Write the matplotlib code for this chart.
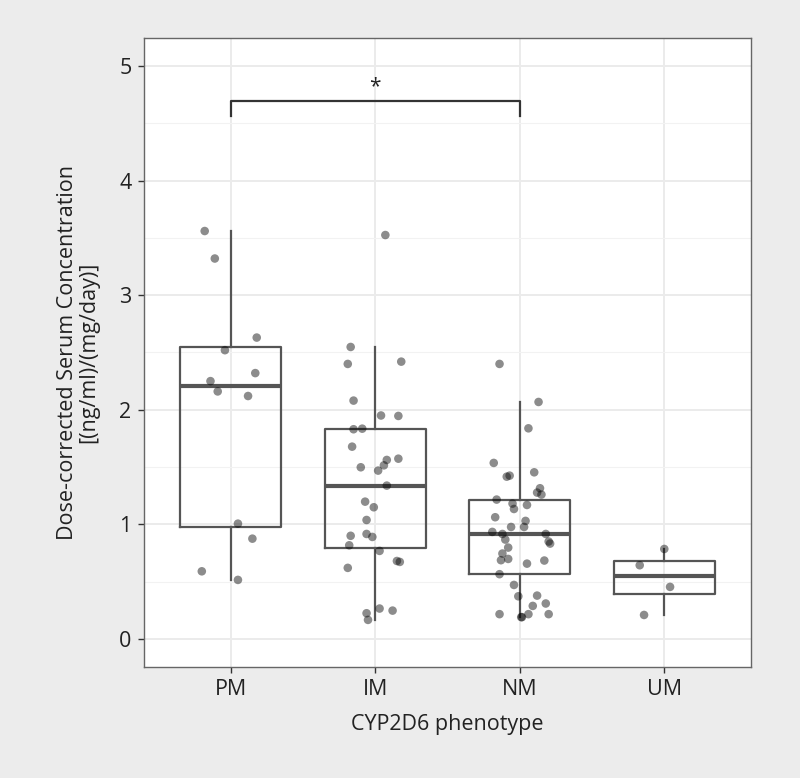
import matplotlib.pyplot as plt
import numpy as np

plt.rcParams['font.family'] = ['Open Sans', 'DejaVu Sans']

phenotypes = ['PM', 'IM', 'NM', 'UM']

# dose-corrected concentrations
pm_vals = [3.56, 3.32, 2.63, 2.52, 2.32, 2.25, 2.16, 2.12, 1.006, 0.875, 0.59, 0.515]
im_vals = [3.525, 2.548, 2.40, 2.42, 2.08, 1.95, 1.946, 1.83, 1.835, 1.678, 1.562,
           1.573, 1.515, 1.498, 1.469, 1.338, 1.198, 1.149, 1.038, 0.90, 0.916,
           0.89, 0.817, 0.768, 0.68, 0.672, 0.62, 0.265, 0.247, 0.224, 0.166]
nm_vals = [2.40, 2.068, 1.838, 1.536, 1.416, 1.425, 1.454, 1.315, 1.277, 1.26,
           1.216, 1.181, 1.169, 1.134, 1.062, 1.03, 0.977, 0.977, 0.934, 0.916,
           0.916, 0.867, 0.85, 0.832, 0.797, 0.745, 0.687, 0.698, 0.657, 0.684,
           0.565, 0.471, 0.372, 0.378, 0.288, 0.309, 0.216, 0.216, 0.216, 0.19, 0.19]
um_vals = [0.785, 0.643, 0.454, 0.209]

# horizontal jitter of each point (category units)
pm_jit = [-0.18, -0.11, 0.18, -0.04, 0.17, -0.14, -0.09, 0.12, 0.05, 0.15, -0.20, 0.05]
im_jit = [0.07, -0.17, -0.19, 0.18, -0.15, 0.04, 0.16, -0.15, -0.09, -0.16, 0.08,
          0.16, 0.06, -0.10, 0.02, 0.08, -0.07, -0.01, -0.06, -0.17, -0.06, -0.02,
          -0.18, 0.03, 0.15, 0.17, -0.19, 0.03, 0.12, -0.06, -0.05]
nm_jit = [-0.14, 0.13, 0.06, -0.18, -0.09, -0.07, 0.10, 0.14, 0.12, 0.15, -0.16,
          -0.05, 0.05, -0.04, -0.17, 0.04, -0.06, 0.03, -0.19, -0.12, 0.18, -0.10,
          0.20, 0.21, -0.08, -0.12, -0.13, -0.08, 0.05, 0.17, -0.14, -0.04, -0.01,
          0.12, 0.09, 0.18, -0.14, 0.06, 0.20, 0.01, 0.015]
um_jit = [0.0, -0.17, 0.04, -0.14]

groups = [pm_vals, im_vals, nm_vals, um_vals]
jitters = [pm_jit, im_jit, nm_jit, um_jit]

fig = plt.figure(figsize=(8, 7.78), dpi=100, facecolor='#ececec')
ax = fig.add_axes([0.18, 0.1427, 0.75875, 0.8085])
ax.set_facecolor('white')

pos = np.arange(1, len(phenotypes) + 1)
line_c = '#555555'
ax.boxplot(groups, positions=pos, widths=0.7, showfliers=False, whis=1.5,
           boxprops=dict(color=line_c, linewidth=1.6),
           whiskerprops=dict(color=line_c, linewidth=1.6),
           capprops=dict(linewidth=0),
           medianprops=dict(color=line_c, linewidth=3), zorder=2)

for p, vals, jit in zip(pos, groups, jitters):
    ax.scatter(p + np.array(jit), vals, s=38, color='black', alpha=0.45,
               edgecolors='none', zorder=3)

# significance bracket PM vs NM
ax.plot([1, 1, 3, 3], [4.56, 4.695, 4.695, 4.56], color='#333333', lw=1.6, zorder=4)
ax.text(2, 4.73, '*', ha='center', va='bottom', fontsize=15, color='#222222')

ax.set_xlim(0.4, 4.6)
ax.set_ylim(-0.245, 5.245)
ax.set_xticks(pos)
ax.set_xticklabels(phenotypes)
ax.set_yticks(range(6))
ax.set_yticks(np.arange(0.5, 5, 1), minor=True)

ax.grid(True, which='major', color='#ebebeb', lw=1.4, zorder=0)
ax.grid(True, which='minor', axis='y', color='#f2f2f2', lw=0.8, zorder=0)
ax.set_axisbelow(True)

for s in ax.spines.values():
    s.set_color('#666666')
    s.set_linewidth(1.0)

ax.tick_params(axis='both', which='major', labelsize=15.5, colors='#333333',
               length=4, width=1, pad=5)
ax.tick_params(axis='y', which='minor', length=0)
ax.tick_params(axis='both', labelcolor='#222222')

ax.set_xlabel('CYP2D6 phenotype', fontsize=15.5, color='#222222', labelpad=10)
ax.set_ylabel('Dose-corrected Serum Concentration\n[(ng/ml)/(mg/day)]',
              fontsize=15.5, color='#222222', labelpad=14, linespacing=1.05)

plt.savefig('out.png', dpi=100, facecolor=fig.get_facecolor())
